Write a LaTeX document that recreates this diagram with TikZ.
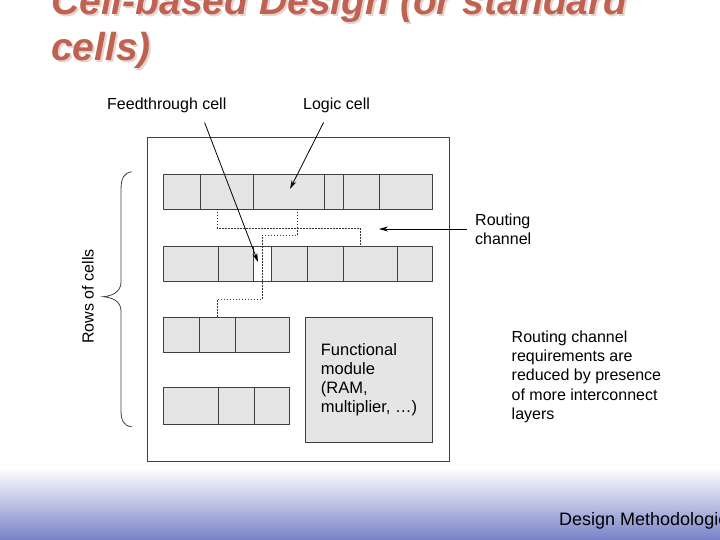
\documentclass[tikz,border=0pt]{standalone}
\usepackage{fontspec}
\setmainfont{Liberation Sans}
\usetikzlibrary{arrows.meta}
\definecolor{titlered}{RGB}{192,98,82}
\definecolor{titleshade}{RGB}{228,212,208}
\definecolor{footblue}{RGB}{120,130,200}
\definecolor{footmid}{RGB}{208,211,234}
\tikzset{
  cell/.style={draw=black!75,fill=gray!20,line width=0.8pt},
  edge/.style={black!75,line width=0.8pt},
  wire/.style={black!80,line width=0.9pt,dash pattern=on 1.5pt off 1.5pt},
  pointer/.style={-{Stealth[length=9pt,width=5pt]},line width=0.8pt},
  lbl/.style={inner sep=0pt,font=\fontsize{16}{19.3}\selectfont,align=left},
  headline/.style={anchor=base west,inner sep=0pt,font=\fontsize{39}{46}\selectfont\bfseries\itshape}
}

\begin{document}
\begin{tikzpicture}[x=1pt,y=-1pt]
\useasboundingbox (0,0) rectangle (720,540);
\clip (0,0) rectangle (720,540);
% Footer band
\shade[top color=white,middle color=footmid,bottom color=footblue] (0,468) rectangle (720,540);
\node[anchor=base west,inner sep=0pt,font=\fontsize{18}{21}\selectfont] (foot) at (559,525.5) {Design Methodologies};
% Title with its shadow
\node[headline,text=titleshade] (title1s) at (53,17) {Cell-based Design (or standard};
\node[headline,text=titleshade] (title2s) at (53,63) {cells)};
\node[headline,text=titlered] (title1) at (51,15) {Cell-based Design (or standard};
\node[headline,text=titlered] (title2) at (51,61) {cells)};
% Chip outline
\draw[edge] (147,137) rectangle (449,461);
% Row 1
\draw[cell] (163,174) rectangle (432,209);
\draw[edge] (200,174) -- (200,209) (253,174) -- (253,209) (324,174) -- (324,209)
  (343,174) -- (343,209) (379,174) -- (379,209);
% Row 2, with the feedthrough cell left white
\draw[cell] (163,246) rectangle (432,281);
\draw[cell,fill=white] (253,246) rectangle (271,281);
\draw[edge] (218,246) -- (218,281) (307,246) -- (307,281) (343,246) -- (343,281)
  (397,246) -- (397,281);
% Row 3
\draw[cell] (163,317) rectangle (289,352);
\draw[edge] (199,317) -- (199,352) (235,317) -- (235,352);
% Row 4
\draw[cell] (163,387) rectangle (289,424);
\draw[edge] (218,387) -- (218,424) (254,387) -- (254,424);
% Functional module
\node[cell,minimum width=126.6pt,minimum height=125.4pt,align=left,
  font=\fontsize{16.5}{19}\selectfont] (module) at (369,380)
  {Functional\\module\\(RAM,\\multiplier, …)};
% Routing wires
\draw[wire] (217,209) -- (217,228) -- (360,228) -- (360,246);
\draw[wire] (297,209) -- (297,235) -- (262,235) -- (262,299) -- (217,299) -- (217,317);
% Labels on top
\node[lbl,anchor=base west] (feed) at (107,110) {Feedthrough cell};
\node[lbl,anchor=base west] (logic) at (303,110) {Logic cell};
\coordinate (feedend) at (258,262);
\coordinate (logicend) at (290,189);
\draw[pointer] ([shift={(-22,9)}]feed.south east) -- (feedend);
\draw[pointer] ([shift={(-13,9)}]logic.south) -- (logicend);
% Routing channel label
\node[lbl,anchor=west] (chan) at (475,229) {Routing\\channel};
\coordinate (chanend) at (379,229);
\draw[pointer,shorten <=8pt] (chan.west) -- (chanend);
% Brace and rows label
\draw[black!75,line width=0.8pt] (131.7,171.7) .. controls (124,173) and (121,178) .. (121,190)
  -- (121,282) .. controls (121,292) and (112,296) .. (103.3,296.7)
  .. controls (112,297.5) and (121,301) .. (121,311)
  -- (121,410) .. controls (121,421) and (124,426) .. (131.7,426.7);
\node[lbl,rotate=90] (rows) at (88,296.5) {Rows of cells};
% Note on the right
\node[lbl,anchor=north west] (note) at (511.5,330.5)
  {Routing channel\\requirements are\\reduced by presence\\of more interconnect\\layers};
\end{tikzpicture}
\end{document}
